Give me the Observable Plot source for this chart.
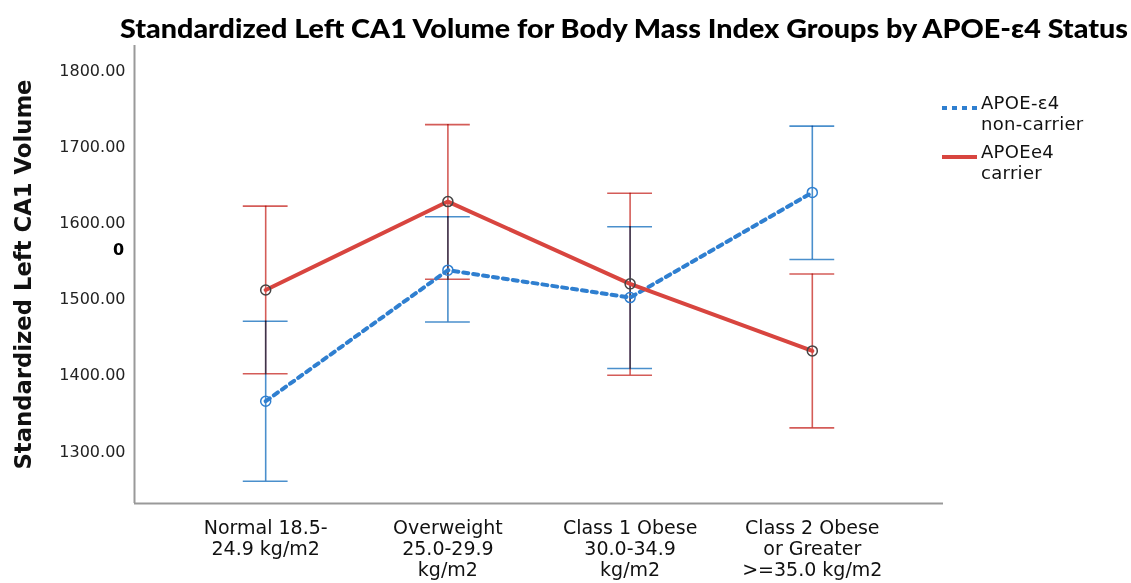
<!DOCTYPE html>
<html>
<head>
<meta charset="utf-8">
<script src="https://cdn.jsdelivr.net/npm/d3@7"></script>
<script src="https://cdn.jsdelivr.net/npm/@observablehq/plot@0.6"></script>
<style>
  body { margin: 0; background: #fff; }
  #wrap { position: relative; width: 1131px; height: 583px; overflow: hidden; font-family: "DejaVu Sans", sans-serif; }
  #title { height: 45px; position: relative; }
  #title span { position: absolute; left: 624px; top: 28px; transform-origin: 0 0; white-space: nowrap;
    font-family: Lato, sans-serif; font-weight: 900; font-size: 26px; color: #000; line-height: 1; }
  #legend { position: absolute; left: 940px; top: 92px; font-size: 18px; color: #111; line-height: 21px; letter-spacing: 0.3px; }
  .item { display: flex; align-items: flex-start; margin-bottom: 7px; }
  .item svg { margin-top: 12px; margin-right: 4px; }
</style>
</head>
<body>
<div id="wrap">
  <div id="title"><span id="tspan">Standardized Left CA1 Volume for Body Mass Index Groups by APOE-ε4 Status</span></div>
  <div id="chart"></div>
  <div id="legend">
    <div class="item"><svg width="37" height="8"><line x1="2" x2="37" y1="4" y2="4" stroke="#2f7fd0" stroke-width="4" stroke-dasharray="5,5"/></svg><div>APOE-ε4<br>non-carrier</div></div>
    <div class="item"><svg width="37" height="8"><line x1="2" x2="37" y1="4" y2="4" stroke="#d8453f" stroke-width="4"/></svg><div>APOEe4<br>carrier</div></div>
  </div>
</div>
<script>
// ---- data ----
const categories = [
  "Normal 18.5-\n24.9 kg/m2",
  "Overweight\n25.0-29.9\nkg/m2",
  "Class 1 Obese\n30.0-34.9\nkg/m2",
  "Class 2 Obese\nor Greater\n>=35.0 kg/m2"
];
const nonCarrierMean = [1366, 1538, 1502, 1640];
const nonCarrierLow  = [1261, 1470, 1409, 1552];
const nonCarrierHigh = [1471, 1608, 1595, 1727];
const carrierMean = [1512, 1628, 1520, 1432];
const carrierLow  = [1402, 1526, 1400, 1331];
const carrierHigh = [1622, 1729, 1639, 1533];
const yTicks = [1300, 1400, 1500, 1600, 1700, 1800];
const strayLabel = [{text: "0", value: 1564}];
const yLabel = "Standardized Left CA1 Volume";

// ---- build rows ----
const nonRows = categories.map((c, i) => ({i, mean: nonCarrierMean[i], low: nonCarrierLow[i], high: nonCarrierHigh[i]}));
const carRows = categories.map((c, i) => ({i, mean: carrierMean[i], low: carrierLow[i], high: carrierHigh[i]}));

const blue = "#2f7fd0", blueBar = "#4a8fcc";
const red = "#d8453f", redBar = "#d45c58";
const xDomain = [-0.72, categories.length - 1 + 0.72];
const yDomain = [1231.8, 1832.8];
const capHalf = 0.123;

function bars(rows, color) {
  return [
    Plot.ruleX(rows, {x: "i", y1: "low", y2: "high", stroke: color, strokeWidth: 1.6, mixBlendMode: "multiply"}),
    Plot.ruleY(rows, {y: "low", x1: d => d.i - capHalf, x2: d => d.i + capHalf, stroke: color, strokeWidth: 1.6, mixBlendMode: "multiply"}),
    Plot.ruleY(rows, {y: "high", x1: d => d.i - capHalf, x2: d => d.i + capHalf, stroke: color, strokeWidth: 1.6, mixBlendMode: "multiply"})
  ];
}

const chart = Plot.plot({
  width: 1131,
  height: 538,
  marginLeft: 134,
  marginRight: 188,
  marginTop: 0,
  marginBottom: 80,
  x: {domain: xDomain, axis: null},
  y: {domain: yDomain, axis: null},
  style: {fontFamily: "'DejaVu Sans', sans-serif", overflow: "visible", background: "#fff"},
  marks: [
    Plot.axisY({ticks: yTicks, tickSize: 0, tickPadding: 9, tickFormat: d => d.toFixed(2), fontSize: 16, fill: "#222", label: null}),
    Plot.axisX({ticks: categories.map((c, i) => i), tickFormat: i => categories[i], tickSize: 0, tickPadding: 16, fontSize: 19, lineHeight: 1.1, fill: "#111", label: null}),
    Plot.ruleX([xDomain[0]], {stroke: "#999", strokeWidth: 2}),
    Plot.ruleY([yDomain[0]], {stroke: "#999", strokeWidth: 2}),
    ...bars(nonRows, blueBar),
    ...bars(carRows, redBar),
    Plot.line(nonRows, {x: "i", y: "mean", stroke: blue, strokeWidth: 4, strokeDasharray: "5,5"}),
    Plot.line(carRows, {x: "i", y: "mean", stroke: red, strokeWidth: 4}),
    Plot.dot(nonRows, {x: "i", y: "mean", r: 5, stroke: blue, strokeWidth: 1.5, fill: "none"}),
    Plot.dot(carRows, {x: "i", y: "mean", r: 5, stroke: "#444", strokeWidth: 1.5, fill: "none"}),
    Plot.text(strayLabel, {y: "value", text: "text", frameAnchor: "left", textAnchor: "middle", dx: -16, fontWeight: "bold", fontSize: 16, fill: "#000"}),
    Plot.text([yLabel], {text: d => d, frameAnchor: "left", textAnchor: "middle", dx: -111, rotate: -90, fontWeight: "bold", fontSize: 23, fill: "#111"})
  ]
});
document.getElementById("chart").appendChild(chart);

// stretch the y label to the reference length
for (const t of chart.querySelectorAll("text")) {
  if (t.textContent === yLabel) {
    t.setAttribute("textLength", 390);
    t.setAttribute("lengthAdjust", "spacingAndGlyphs");
  }
}

// fit title width to reference
const ts = document.getElementById("tspan");
const w = ts.getBoundingClientRect().width, h = ts.getBoundingClientRect().height;
const sx = 1008 / w;
ts.style.transform = `translate(${-1008/2}px, ${-h/2}px) scaleX(${sx})`;
</script>
</body>
</html>
